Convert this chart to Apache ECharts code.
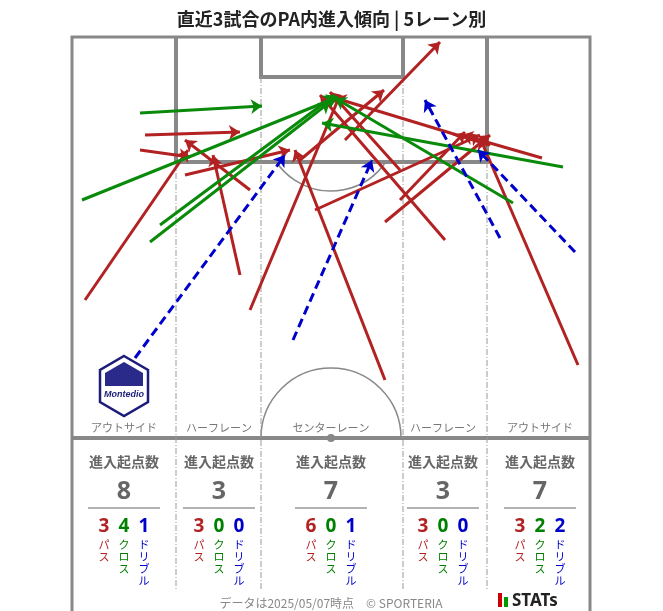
<!DOCTYPE html>
<html><head><meta charset="utf-8">
<script src="https://cdn.jsdelivr.net/npm/echarts@6/dist/echarts.min.js"></script>
<style>html,body{margin:0;background:#fff}#main{width:663px;height:611px}</style>
</head><body><div id="main"></div>
<script>
// entries: [x0, y0, x1, y1] in pitch pixel units (arrow at end)
var passes = [
  [85,300,188,150],[140,150,190,157],[145,135,240,132],[250,190,185,140],
  [240,275,213,155],[185,175,290,150],[250,310,340,95],[385,380,295,150],
  [400,170,330,92],[315,210,480,135],[385,222,490,135],[445,240,320,95],
  [578,365,480,138],[542,158,462,135],[345,140,440,42],[300,160,384,90],
  [400,200,465,132],[490,145,335,98]
];
var crosses = [
  [140,113,262,106],[82,200,338,97],[160,225,335,95],[150,242,330,102],
  [513,203,335,98],[563,167,322,123]
];
var dribbles = [
  [135,358,285,155],[293,340,372,160],[500,238,425,100],[575,252,478,150]
];
var lanes = ['アウトサイド','ハーフレーン','センターレーン','ハーフレーン','アウトサイド'];
var laneX = [124,219,331,443,540];
var totals = [8,3,7,3,7];
var passCount = [3,3,6,3,3];
var crossCount = [4,0,0,0,2];
var dribbleCount = [1,0,1,0,2];

var myChart = echarts.init(document.getElementById('main'));
var toLines = function (arr) {
  return arr.map(function (d) { return { coords: [[d[0], d[1]], [d[2], d[3]]] }; });
};
var arrowSeries = function (arr, color, dashed) {
  return {
    type: 'lines', coordinateSystem: 'cartesian2d', z: 5,
    symbol: ['none', 'arrow'], symbolSize: 11,
    lineStyle: { color: color, width: 3, opacity: 1, type: dashed ? [9, 5] : 'solid' },
    data: toLines(arr)
  };
};

var gray = '#888';
var g = [];
// pitch outline
g.push({ type: 'polyline', shape: { points: [[72,611],[72,37],[590,37],[590,611]] }, style: { stroke: gray, lineWidth: 3, fill: null } });
g.push({ type: 'polyline', shape: { points: [[176,37],[176,162],[487,162],[487,37]] }, style: { stroke: gray, lineWidth: 4, fill: null } });
g.push({ type: 'polyline', shape: { points: [[261,37],[261,77],[403,77],[403,37]] }, style: { stroke: gray, lineWidth: 4, fill: null } });
g.push({ type: 'line', shape: { x1: 72, y1: 438, x2: 590, y2: 438 }, style: { stroke: gray, lineWidth: 4 } });
g.push({ type: 'arc', shape: { cx: 331, cy: 438, r: 70, startAngle: Math.PI, endAngle: 2 * Math.PI }, style: { stroke: gray, lineWidth: 1.5, fill: null } });
g.push({ type: 'arc', shape: { cx: 331, cy: 125, r: 66, startAngle: 0.59, endAngle: Math.PI - 0.59 }, style: { stroke: gray, lineWidth: 1.5, fill: null } });
g.push({ type: 'circle', shape: { cx: 331, cy: 438, r: 4 }, style: { fill: gray } });
[[176,162],[261,77],[403,77],[487,162]].forEach(function (p) {
  g.push({ type: 'line', shape: { x1: p[0], y1: p[1], x2: p[0], y2: 590 }, style: { stroke: '#999', lineWidth: 1, lineDash: [6, 2, 1, 2] } });
});
// logo
g.push({ type: 'polygon', shape: { points: [[124,356],[148,370],[148,402],[124,416],[100,402],[100,370]] }, style: { fill: '#fff', stroke: '#1c1c7a', lineWidth: 2.5 } });
g.push({ type: 'polygon', shape: { points: [[124,362],[143,373],[143,386],[105,386],[105,373]] }, style: { fill: '#2a2a8a' } });
g.push({ type: 'text', style: { text: 'Montedio', x: 124, y: 395, fill: '#1c1c7a', font: 'italic bold 9px sans-serif', align: 'center', verticalAlign: 'middle' } });
lanes.forEach(function (t, i) {
  g.push({ type: 'text', style: { text: t, x: laneX[i], y: 428, fill: '#777', font: '11px "Noto Sans CJK JP"', align: 'center', verticalAlign: 'middle' } });
  g.push({ type: 'text', style: { text: '進入起点数', x: laneX[i], y: 462, fill: '#666', font: 'bold 14px "Noto Sans CJK JP"', align: 'center', verticalAlign: 'middle' } });
  g.push({ type: 'text', style: { text: String(totals[i]), x: laneX[i], y: 492, fill: '#666', font: 'bold 25px "Noto Sans"', align: 'center', verticalAlign: 'middle' } });
  g.push({ type: 'line', shape: { x1: laneX[i] - 36, y1: 508, x2: laneX[i] + 36, y2: 508 }, style: { stroke: '#666', lineWidth: 1 } });
  var cols = [[passCount[i], '#b22222', 'パ\nス'], [crossCount[i], '#008000', 'ク\nロ\nス'], [dribbleCount[i], '#0000cc', 'ド\nリ\nブ\nル']];
  cols.forEach(function (c, j) {
    var x = laneX[i] - 20 + j * 20;
    g.push({ type: 'text', style: { text: String(c[0]), x: x, y: 527, fill: c[1], font: 'bold 19px "Noto Sans"', align: 'center', verticalAlign: 'middle' } });
    g.push({ type: 'text', style: { text: c[2], x: x, y: 539, fill: c[1], font: '11px "Noto Sans CJK JP"', lineHeight: 12, align: 'center', verticalAlign: 'top' } });
  });
});
g.push({ type: 'text', style: { text: 'データは2025/05/07時点　© SPORTERIA', x: 331, y: 603, fill: '#888', font: '12px "Noto Sans CJK JP"', align: 'center', verticalAlign: 'middle' } });
g.push({ type: 'rect', shape: { x: 498, y: 593, width: 4, height: 14 }, style: { fill: '#c00' } });
g.push({ type: 'rect', shape: { x: 504, y: 597, width: 4, height: 10 }, style: { fill: '#090' } });
g.push({ type: 'text', style: { text: 'STATs', x: 512, y: 601, fill: '#222', font: 'bold 17px "Noto Sans"', align: 'left', verticalAlign: 'middle' } });

var option = {
  animation: false,
  title: { text: '直近3試合のPA内進入傾向 | 5レーン別', left: 'center', top: 5,
    textStyle: { fontSize: 18, fontWeight: 'bold', color: '#222', fontFamily: 'Noto Sans CJK JP' } },
  grid: { left: 0, right: 0, top: 0, bottom: 0 },
  xAxis: { type: 'value', min: 0, max: 663, show: false },
  yAxis: { type: 'value', min: 0, max: 611, inverse: true, show: false },
  graphic: g,
  series: [
    arrowSeries(passes, '#b22222', false),
    arrowSeries(crosses, '#0a8a0a', false),
    arrowSeries(dribbles, '#0000cc', true)
  ]
};
myChart.setOption(option);
</script></body></html>
